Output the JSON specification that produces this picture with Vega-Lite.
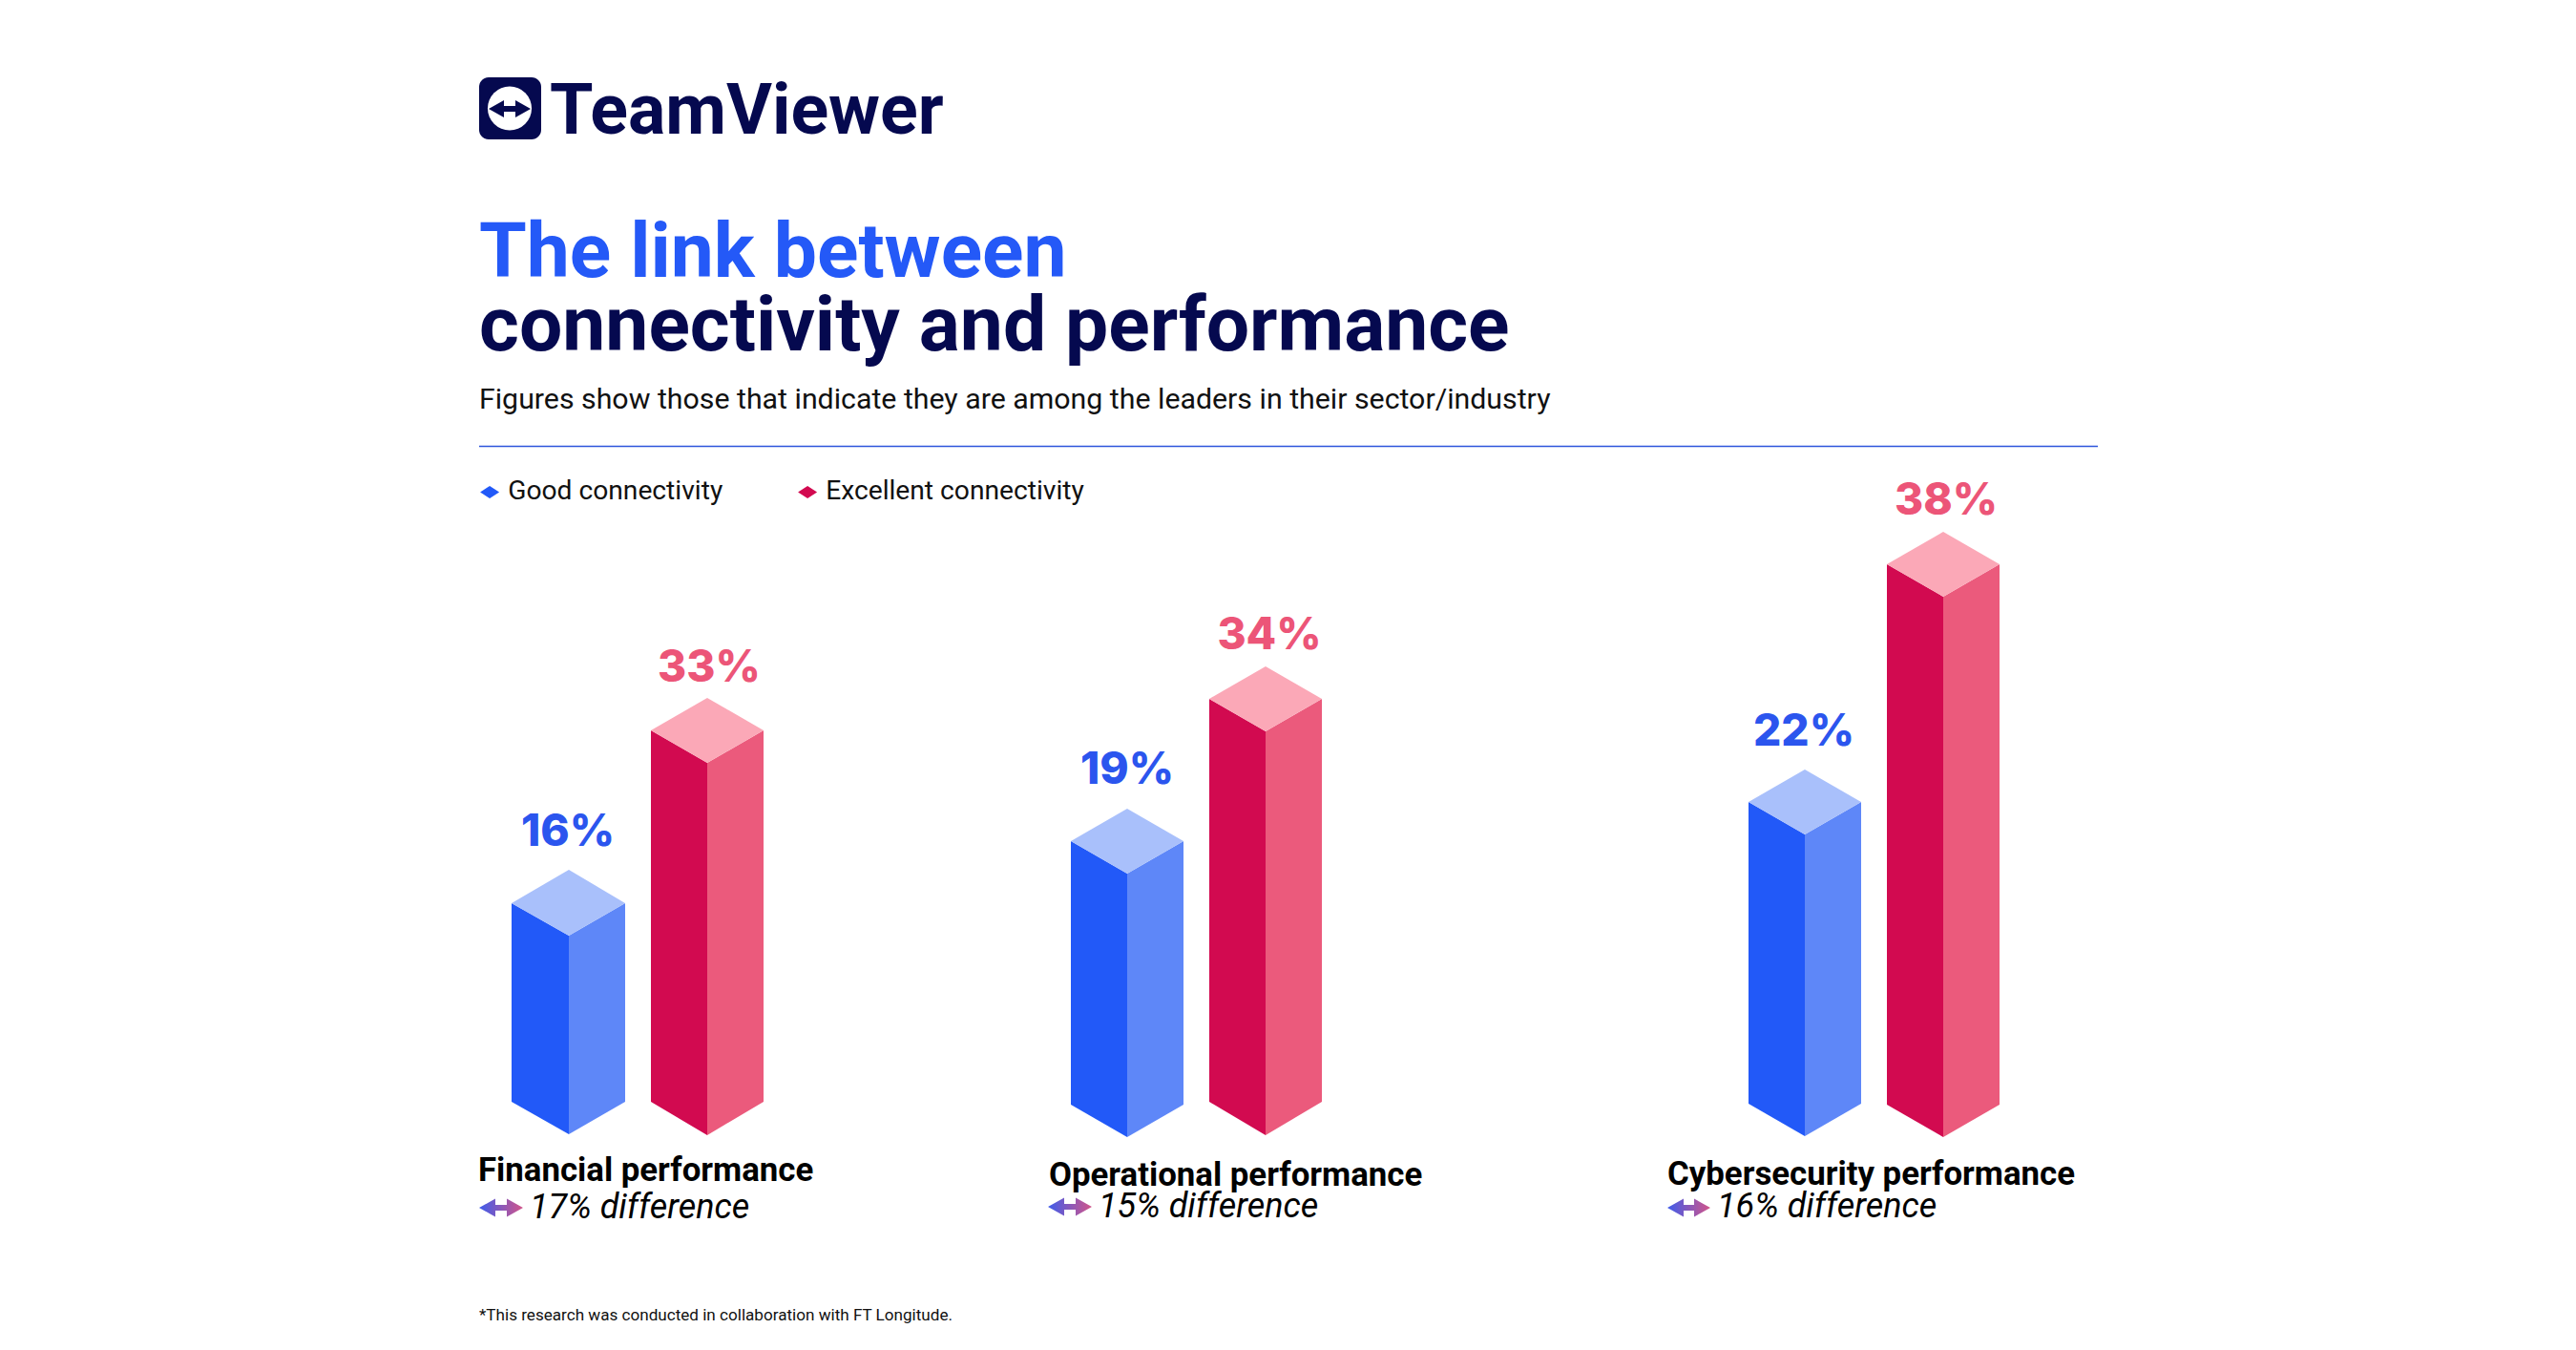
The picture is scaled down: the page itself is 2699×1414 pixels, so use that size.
{"$schema":"https://vega.github.io/schema/vega-lite/v6.json","width":2699,"height":1414,"padding":0,"autosize":"none","background":"white","config":{"view":{"stroke":null}},
"datasets":{
"faces":[
{"metric":"Financial performance","series":"Good connectivity","value":0.16,"tone":"Good connectivity","x":536,"top":946,"base":1154},
{"metric":"Financial performance","series":"Good connectivity","value":0.16,"tone":"Good connectivity","x":596,"top":980,"base":1188},
{"metric":"Financial performance","series":"Good connectivity","value":0.16,"tone":"Good side","x":596,"top":980,"base":1188},
{"metric":"Financial performance","series":"Good connectivity","value":0.16,"tone":"Good side","x":655,"top":946,"base":1154},
{"metric":"Financial performance","series":"Good connectivity","value":0.16,"tone":"Good top","x":536,"top":946,"base":946},
{"metric":"Financial performance","series":"Good connectivity","value":0.16,"tone":"Good top","x":596,"top":911,"base":980},
{"metric":"Financial performance","series":"Good connectivity","value":0.16,"tone":"Good top","x":655,"top":946,"base":946},
{"metric":"Financial performance","series":"Excellent connectivity","value":0.33,"tone":"Excellent connectivity","x":682,"top":765,"base":1154},
{"metric":"Financial performance","series":"Excellent connectivity","value":0.33,"tone":"Excellent connectivity","x":741,"top":799,"base":1189},
{"metric":"Financial performance","series":"Excellent connectivity","value":0.33,"tone":"Excellent side","x":741,"top":799,"base":1189},
{"metric":"Financial performance","series":"Excellent connectivity","value":0.33,"tone":"Excellent side","x":800,"top":765,"base":1154},
{"metric":"Financial performance","series":"Excellent connectivity","value":0.33,"tone":"Excellent top","x":682,"top":765,"base":765},
{"metric":"Financial performance","series":"Excellent connectivity","value":0.33,"tone":"Excellent top","x":741,"top":731,"base":799},
{"metric":"Financial performance","series":"Excellent connectivity","value":0.33,"tone":"Excellent top","x":800,"top":765,"base":765},
{"metric":"Operational performance","series":"Good connectivity","value":0.19,"tone":"Good connectivity","x":1122,"top":881,"base":1157},
{"metric":"Operational performance","series":"Good connectivity","value":0.19,"tone":"Good connectivity","x":1181,"top":915,"base":1191},
{"metric":"Operational performance","series":"Good connectivity","value":0.19,"tone":"Good side","x":1181,"top":915,"base":1191},
{"metric":"Operational performance","series":"Good connectivity","value":0.19,"tone":"Good side","x":1240,"top":881,"base":1157},
{"metric":"Operational performance","series":"Good connectivity","value":0.19,"tone":"Good top","x":1122,"top":881,"base":881},
{"metric":"Operational performance","series":"Good connectivity","value":0.19,"tone":"Good top","x":1181,"top":847,"base":915},
{"metric":"Operational performance","series":"Good connectivity","value":0.19,"tone":"Good top","x":1240,"top":881,"base":881},
{"metric":"Operational performance","series":"Excellent connectivity","value":0.34,"tone":"Excellent connectivity","x":1267,"top":732,"base":1154},
{"metric":"Operational performance","series":"Excellent connectivity","value":0.34,"tone":"Excellent connectivity","x":1326,"top":766,"base":1189},
{"metric":"Operational performance","series":"Excellent connectivity","value":0.34,"tone":"Excellent side","x":1326,"top":766,"base":1189},
{"metric":"Operational performance","series":"Excellent connectivity","value":0.34,"tone":"Excellent side","x":1385,"top":732,"base":1154},
{"metric":"Operational performance","series":"Excellent connectivity","value":0.34,"tone":"Excellent top","x":1267,"top":732,"base":732},
{"metric":"Operational performance","series":"Excellent connectivity","value":0.34,"tone":"Excellent top","x":1326,"top":698,"base":766},
{"metric":"Operational performance","series":"Excellent connectivity","value":0.34,"tone":"Excellent top","x":1385,"top":732,"base":732},
{"metric":"Cybersecurity performance","series":"Good connectivity","value":0.22,"tone":"Good connectivity","x":1832,"top":840,"base":1156},
{"metric":"Cybersecurity performance","series":"Good connectivity","value":0.22,"tone":"Good connectivity","x":1891,"top":874,"base":1190},
{"metric":"Cybersecurity performance","series":"Good connectivity","value":0.22,"tone":"Good side","x":1891,"top":874,"base":1190},
{"metric":"Cybersecurity performance","series":"Good connectivity","value":0.22,"tone":"Good side","x":1950,"top":840,"base":1156},
{"metric":"Cybersecurity performance","series":"Good connectivity","value":0.22,"tone":"Good top","x":1832,"top":840,"base":840},
{"metric":"Cybersecurity performance","series":"Good connectivity","value":0.22,"tone":"Good top","x":1891,"top":806,"base":874},
{"metric":"Cybersecurity performance","series":"Good connectivity","value":0.22,"tone":"Good top","x":1950,"top":840,"base":840},
{"metric":"Cybersecurity performance","series":"Excellent connectivity","value":0.38,"tone":"Excellent connectivity","x":1977,"top":591,"base":1157},
{"metric":"Cybersecurity performance","series":"Excellent connectivity","value":0.38,"tone":"Excellent connectivity","x":2036,"top":625,"base":1191},
{"metric":"Cybersecurity performance","series":"Excellent connectivity","value":0.38,"tone":"Excellent side","x":2036,"top":625,"base":1191},
{"metric":"Cybersecurity performance","series":"Excellent connectivity","value":0.38,"tone":"Excellent side","x":2095,"top":591,"base":1157},
{"metric":"Cybersecurity performance","series":"Excellent connectivity","value":0.38,"tone":"Excellent top","x":1977,"top":591,"base":591},
{"metric":"Cybersecurity performance","series":"Excellent connectivity","value":0.38,"tone":"Excellent top","x":2036,"top":557,"base":625},
{"metric":"Cybersecurity performance","series":"Excellent connectivity","value":0.38,"tone":"Excellent top","x":2095,"top":591,"base":591}
],
"values":[
{"metric":"Financial performance","series":"Good connectivity","value":0.16,"x":595,"y":886},
{"metric":"Financial performance","series":"Excellent connectivity","value":0.33,"x":743,"y":714},
{"metric":"Operational performance","series":"Good connectivity","value":0.19,"x":1181,"y":821},
{"metric":"Operational performance","series":"Excellent connectivity","value":0.34,"x":1330,"y":680},
{"metric":"Cybersecurity performance","series":"Good connectivity","value":0.22,"x":1890,"y":781},
{"metric":"Cybersecurity performance","series":"Excellent connectivity","value":0.38,"x":2039,"y":539}
],
"metrics":[
{"text":"Financial performance","x":501,"y":1237},
{"text":"Operational performance","x":1099,"y":1242},
{"text":"Cybersecurity performance","x":1747,"y":1241}
],
"differences":[
{"text":"17% difference","x":555,"y":1276},
{"text":"15% difference","x":1151,"y":1275},
{"text":"16% difference","x":1799,"y":1275}
],
"arrows":[
{"metric":"Financial performance","x":502,"top":1265,"base":1265},
{"metric":"Financial performance","x":519,"top":1255.5,"base":1274.5},
{"metric":"Financial performance","x":519.01,"top":1262,"base":1268},
{"metric":"Financial performance","x":531,"top":1262,"base":1268},
{"metric":"Financial performance","x":531.01,"top":1255.5,"base":1274.5},
{"metric":"Financial performance","x":548,"top":1265,"base":1265},
{"metric":"Operational performance","x":1098,"top":1264,"base":1264},
{"metric":"Operational performance","x":1115,"top":1254.5,"base":1273.5},
{"metric":"Operational performance","x":1115.01,"top":1261,"base":1267},
{"metric":"Operational performance","x":1127,"top":1261,"base":1267},
{"metric":"Operational performance","x":1127.01,"top":1254.5,"base":1273.5},
{"metric":"Operational performance","x":1144,"top":1264,"base":1264},
{"metric":"Cybersecurity performance","x":1747,"top":1265,"base":1265},
{"metric":"Cybersecurity performance","x":1764,"top":1255.5,"base":1274.5},
{"metric":"Cybersecurity performance","x":1764.01,"top":1262,"base":1268},
{"metric":"Cybersecurity performance","x":1775,"top":1262,"base":1268},
{"metric":"Cybersecurity performance","x":1775.01,"top":1255.5,"base":1274.5},
{"metric":"Cybersecurity performance","x":1792,"top":1265,"base":1265}
],
"logoArrow":[
{"x":512,"top":114,"base":114},
{"x":528,"top":105,"base":123},
{"x":528.01,"top":111,"base":117},
{"x":540,"top":111,"base":117},
{"x":540.01,"top":105,"base":123},
{"x":556,"top":114,"base":114}
]
},
"layer":[
{"data":{"values":[{"x":502,"x2":2198,"y":467.5}]},"mark":{"type":"rule","color":"#2e55dc","strokeWidth":1.5},"encoding":{"x":{"field":"x","type":"quantitative","scale":{"domain":[0,2699],"nice":false,"zero":false},"axis":null},"x2":{"field":"x2"},"y":{"field":"y","type":"quantitative","scale":{"domain":[0,1414],"nice":false,"zero":false,"reverse":true},"axis":null}}},
{"data":{"name":"faces"},"mark":{"type":"area","interpolate":"linear"},"encoding":{"x":{"field":"x","type":"quantitative"},"y":{"field":"top","type":"quantitative","stack":null},"y2":{"field":"base"},"detail":[{"field":"metric"},{"field":"series"}],"color":{"field":"tone","type":"nominal","scale":{"domain":["Good connectivity","Excellent connectivity","Good side","Good top","Excellent side","Excellent top"],"range":["#2259f8","#d20a50","#5e87f8","#a9c0fb","#eb5a7c","#fba8b7"]},"legend":{"values":["Good connectivity","Excellent connectivity"],"title":null,"orient":"none","legendX":499,"legendY":501,"direction":"horizontal","symbolType":"M-1,0L0,-0.65L1,0L0,0.65Z","symbolSize":400,"labelFont":"Roboto","labelFontSize":28.2,"labelColor":"#111","labelOffset":5,"labelLimit":0,"columnPadding":74}}}},
{"data":{"name":"values"},"mark":{"type":"text","font":"Inter","fontWeight":800,"fontSize":46,"align":"center","baseline":"alphabetic"},"encoding":{"x":{"field":"x","type":"quantitative"},"y":{"field":"y","type":"quantitative"},"text":{"field":"value","type":"quantitative","format":".0%"},"color":{"field":"series","type":"nominal","scale":{"domain":["Good connectivity","Excellent connectivity"],"range":["#2b55ee","#ec5578"]},"legend":null}}},
{"data":{"name":"arrows"},"mark":{"type":"area","interpolate":"linear","fill":{"gradient":"linear","x1":0,"x2":1,"y1":0,"y2":0,"stops":[{"offset":0,"color":"#3f5cea"},{"offset":1,"color":"#d2558a"}]}},"encoding":{"x":{"field":"x","type":"quantitative"},"y":{"field":"top","type":"quantitative","stack":null},"y2":{"field":"base"},"detail":{"field":"metric"}}},
{"data":{"name":"metrics"},"mark":{"type":"text","font":"Roboto","fontWeight":"bold","fontSize":34.8,"align":"left","baseline":"alphabetic","color":"#000"},"encoding":{"x":{"field":"x","type":"quantitative"},"y":{"field":"y","type":"quantitative"},"text":{"field":"text"}}},
{"data":{"name":"differences"},"mark":{"type":"text","font":"Roboto","fontStyle":"italic","fontSize":36,"align":"left","baseline":"alphabetic","color":"#000"},"encoding":{"x":{"field":"x","type":"quantitative"},"y":{"field":"y","type":"quantitative"},"text":{"field":"text"}}},
{"data":{"values":[{"x":502,"x2":567,"y":81,"y2":146}]},"mark":{"type":"rect","color":"#05094f","cornerRadius":10},"encoding":{"x":{"field":"x","type":"quantitative"},"x2":{"field":"x2"},"y":{"field":"y","type":"quantitative"},"y2":{"field":"y2"}}},
{"data":{"values":[{"x":534,"y":113.5}]},"mark":{"type":"point","shape":"circle","filled":true,"color":"white","opacity":1,"size":2124},"encoding":{"x":{"field":"x","type":"quantitative"},"y":{"field":"y","type":"quantitative"}}},
{"data":{"name":"logoArrow"},"mark":{"type":"area","interpolate":"linear","color":"#05094f"},"encoding":{"x":{"field":"x","type":"quantitative"},"y":{"field":"top","type":"quantitative","stack":null},"y2":{"field":"base"}}},
{"data":{"values":[{"text":"TeamViewer","x":576,"y":140}]},"mark":{"type":"text","font":"Roboto","fontWeight":"bold","fontSize":73.5,"align":"left","baseline":"alphabetic","color":"#05094f"},"encoding":{"x":{"field":"x","type":"quantitative"},"y":{"field":"y","type":"quantitative"},"text":{"field":"text"}}},
{"data":{"values":[{"text":"The link between","x":502,"y":290}]},"mark":{"type":"text","font":"Roboto","fontWeight":"bold","fontSize":80.4,"align":"left","baseline":"alphabetic","color":"#2459f7"},"encoding":{"x":{"field":"x","type":"quantitative"},"y":{"field":"y","type":"quantitative"},"text":{"field":"text"}}},
{"data":{"values":[{"text":"connectivity and performance","x":502,"y":367}]},"mark":{"type":"text","font":"Roboto","fontWeight":"bold","fontSize":80.4,"align":"left","baseline":"alphabetic","color":"#05094f"},"encoding":{"x":{"field":"x","type":"quantitative"},"y":{"field":"y","type":"quantitative"},"text":{"field":"text"}}},
{"data":{"values":[{"text":"Figures show those that indicate they are among the leaders in their sector/industry","x":502,"y":428}]},"mark":{"type":"text","font":"Roboto","fontSize":30.3,"align":"left","baseline":"alphabetic","color":"#111"},"encoding":{"x":{"field":"x","type":"quantitative"},"y":{"field":"y","type":"quantitative"},"text":{"field":"text"}}},
{"data":{"values":[{"text":"*This research was conducted in collaboration with FT Longitude.","x":502,"y":1383}]},"mark":{"type":"text","font":"Roboto","fontSize":17.1,"align":"left","baseline":"alphabetic","color":"#111"},"encoding":{"x":{"field":"x","type":"quantitative"},"y":{"field":"y","type":"quantitative"},"text":{"field":"text"}}}
],
"resolve":{"scale":{"color":"independent"}}}
